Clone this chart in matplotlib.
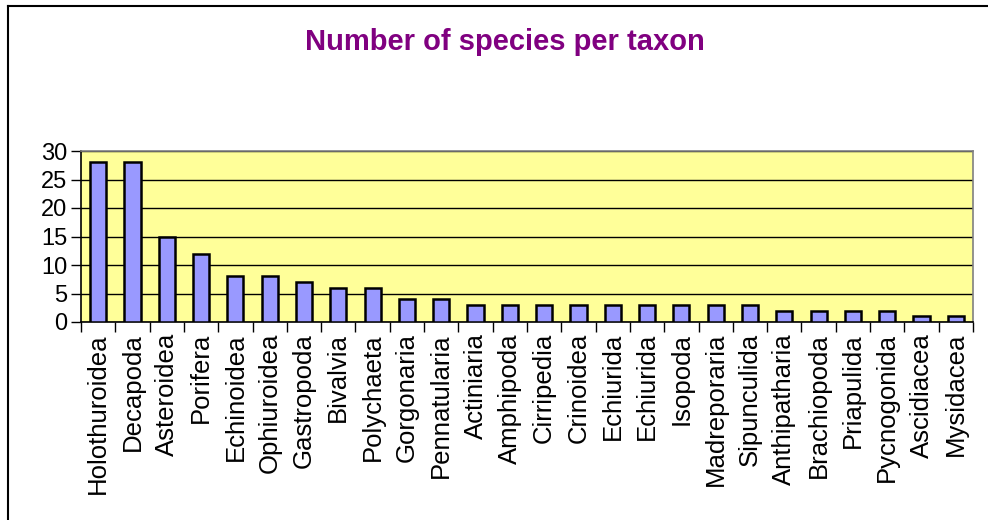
import matplotlib
matplotlib.use("Agg")
import matplotlib.pyplot as plt
from matplotlib.lines import Line2D
import numpy as np

taxa = ["Holothuroidea", "Decapoda", "Asteroidea", "Porifera", "Echinoidea",
        "Ophiuroidea", "Gastropoda", "Bivalvia", "Polychaeta", "Gorgonaria",
        "Pennatularia", "Actiniaria", "Amphipoda", "Cirripedia", "Crinoidea",
        "Echiurida", "Echiurida", "Isopoda", "Madreporaria", "Sipunculida",
        "Anthipatharia", "Brachiopoda", "Priapulida", "Pycnogonida",
        "Ascidiacea", "Mysidacea"]
species = [28, 28, 15, 12, 8, 8, 7, 6, 6, 4, 4, 3, 3, 3, 3, 3, 3, 3, 3, 3,
           2, 2, 2, 2, 1, 1]
yticks = [0, 5, 10, 15, 20, 25, 30]

plt.rcParams["font.family"] = ["Liberation Sans", "DejaVu Sans"]

W, H = 988, 520
fig = plt.figure(figsize=(W / 100, H / 100), dpi=100)

# chart frame (top and left edges visible)
fig.add_artist(Line2D([8 / W, 8 / W], [0, 1 - 6 / H], transform=fig.transFigure,
                      color="black", lw=1.5))
fig.add_artist(Line2D([8 / W, 1], [1 - 6 / H, 1 - 6 / H], transform=fig.transFigure,
                      color="black", lw=1.5))

left, right, top, bottom = 81, 973, 151, 322
ax = fig.add_axes([left / W, 1 - bottom / H, (right - left) / W, (bottom - top) / H])
ax.set_facecolor("#FFFF99")

x = np.arange(len(taxa))
ax.bar(x, species, width=0.47, color="#9999FF", edgecolor="black", linewidth=1.8,
       zorder=3)

ax.set_xlim(-0.5, len(taxa) - 0.5)
ax.set_ylim(0, 30)
ax.set_yticks(yticks)
ax.set_yticklabels([str(v) for v in yticks], fontsize=17)
ax.yaxis.grid(True, color="black", lw=1.0, zorder=1)
ax.set_axisbelow(True)

ax.set_xticks(x)
ax.set_xticklabels(taxa, rotation=90, fontsize=18.5, va="top", ha="center")
ax.set_xticks(np.arange(len(taxa) + 1) - 0.5, minor=True)
ax.tick_params(axis="x", which="major", length=0, pad=8)
ax.tick_params(axis="x", which="minor", length=7, width=1, direction="out")
ax.tick_params(axis="y", length=7, width=1, direction="out", pad=3)

for side in ("top", "right"):
    ax.spines[side].set_color("#808080")
    ax.spines[side].set_linewidth(1.2)
for side in ("left", "bottom"):
    ax.spines[side].set_color("black")
    ax.spines[side].set_linewidth(1.2)

fig.text(505 / W, 1 - 42 / H, "Number of species per taxon", ha="center",
         va="center", fontsize=21, fontweight="bold", color="#800080")

fig.savefig("out.png", dpi=100)
